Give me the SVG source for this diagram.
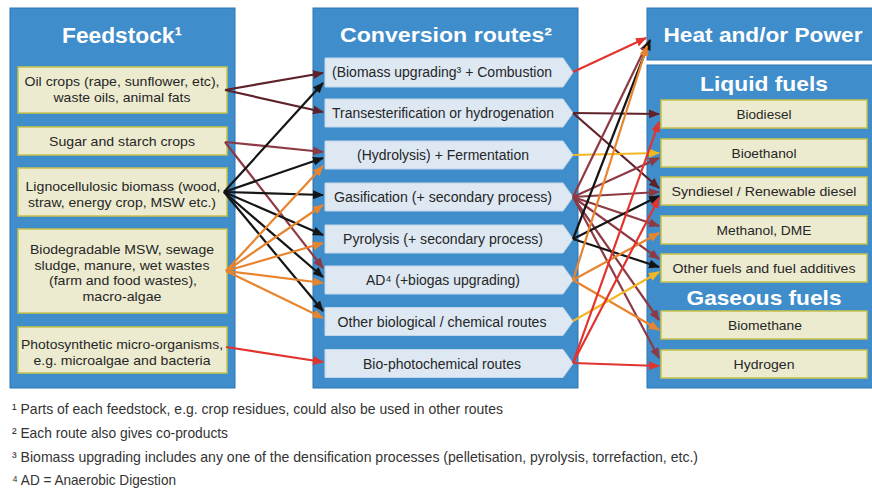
<svg xmlns="http://www.w3.org/2000/svg" width="872" height="489" viewBox="0 0 872 489">
<style>
.panel{fill:#3f8dca;stroke:#2d75b2;stroke-width:1}
.fs{fill:#ecebcf;stroke:#c8c24a;stroke-width:1.5}
.rt{fill:#dde8f3;stroke:#c2d6ea;stroke-width:1}
.title{font-family:"Liberation Sans",Arial,sans-serif;font-weight:bold;fill:#ffffff;text-anchor:middle}
.t{font-family:"Liberation Sans",Arial,sans-serif;font-size:13.5px;fill:#262626;text-anchor:middle}
.rtx{font-family:"Liberation Sans",Arial,sans-serif;font-size:14px;fill:#262626;text-anchor:middle}
.fn{font-family:"Liberation Sans",Arial,sans-serif;font-size:14.5px;fill:#333333}
.c{fill:none;stroke-width:2.2}
.dm{stroke:#5e2228;marker-end:url(#a-dm)}
.mr{stroke:#8d3a44;marker-end:url(#a-mr)}
.bk{stroke:#151515;marker-end:url(#a-bk)}
.or{stroke:#e8842e;marker-end:url(#a-or)}
.gd{stroke:#f3b624;marker-end:url(#a-gd)}
.rd{stroke:#e2342e;marker-end:url(#a-rd)}
</style>
<defs>
<marker id="a-dm" markerUnits="userSpaceOnUse" markerWidth="11" markerHeight="9" refX="10" refY="4.5" orient="auto"><path d="M0,0 L11,4.5 L0,9 z" fill="#5e2228"/></marker>
<marker id="a-mr" markerUnits="userSpaceOnUse" markerWidth="11" markerHeight="9" refX="10" refY="4.5" orient="auto"><path d="M0,0 L11,4.5 L0,9 z" fill="#8d3a44"/></marker>
<marker id="a-bk" markerUnits="userSpaceOnUse" markerWidth="11" markerHeight="9" refX="10" refY="4.5" orient="auto"><path d="M0,0 L11,4.5 L0,9 z" fill="#151515"/></marker>
<marker id="a-or" markerUnits="userSpaceOnUse" markerWidth="11" markerHeight="9" refX="10" refY="4.5" orient="auto"><path d="M0,0 L11,4.5 L0,9 z" fill="#e8842e"/></marker>
<marker id="a-gd" markerUnits="userSpaceOnUse" markerWidth="11" markerHeight="9" refX="10" refY="4.5" orient="auto"><path d="M0,0 L11,4.5 L0,9 z" fill="#f3b624"/></marker>
<marker id="a-rd" markerUnits="userSpaceOnUse" markerWidth="11" markerHeight="9" refX="10" refY="4.5" orient="auto"><path d="M0,0 L11,4.5 L0,9 z" fill="#e2342e"/></marker>
</defs>
<rect width="872" height="489" fill="#ffffff"/>

<!-- Panels -->
<g id="panel-feedstock">
<rect class="panel" x="10" y="8" width="225" height="380"/>
<text class="title" x="122" y="43" font-size="22" textLength="120" lengthAdjust="spacingAndGlyphs">Feedstock¹</text>
</g>
<g id="panel-conversion">
<rect class="panel" x="313" y="8" width="265" height="380"/>
<text class="title" x="446" y="42" font-size="21" textLength="212" lengthAdjust="spacingAndGlyphs">Conversion routes²</text>
</g>
<g id="panel-heat">
<rect class="panel" x="647" y="8" width="232" height="52"/>
<text class="title" x="763" y="42" font-size="21" textLength="199" lengthAdjust="spacingAndGlyphs">Heat and/or Power</text>
</g>
<g id="panel-fuels">
<rect class="panel" x="647" y="65" width="232" height="323"/>
<text class="title" x="764" y="91" font-size="21" textLength="128" lengthAdjust="spacingAndGlyphs">Liquid fuels</text>
<text class="title" x="764" y="305" font-size="21" textLength="155" lengthAdjust="spacingAndGlyphs">Gaseous fuels</text>
</g>

<!-- Feedstock nodes -->
<g id="fs-oil">
<rect class="fs" x="18" y="67" width="209" height="46"/>
<text class="t" x="122" y="86" textLength="195" lengthAdjust="spacingAndGlyphs">Oil crops (rape, sunflower, etc),</text>
<text class="t" x="122" y="102" textLength="137" lengthAdjust="spacingAndGlyphs">waste oils, animal fats</text>
</g>
<g id="fs-sugar">
<rect class="fs" x="18" y="127" width="209" height="28"/>
<text class="t" x="122" y="146" textLength="146" lengthAdjust="spacingAndGlyphs">Sugar and starch crops</text>
</g>
<g id="fs-ligno">
<rect class="fs" x="18" y="168" width="209" height="48"/>
<text class="t" x="123" y="191" textLength="195" lengthAdjust="spacingAndGlyphs">Lignocellulosic biomass (wood,</text>
<text class="t" x="122" y="207" textLength="188" lengthAdjust="spacingAndGlyphs">straw, energy crop, MSW etc.)</text>
</g>
<g id="fs-biodeg">
<rect class="fs" x="18" y="229" width="209" height="84"/>
<text class="t" x="122" y="254" textLength="184" lengthAdjust="spacingAndGlyphs">Biodegradable MSW, sewage</text>
<text class="t" x="122" y="270" textLength="175" lengthAdjust="spacingAndGlyphs">sludge, manure, wet wastes</text>
<text class="t" x="123" y="285" textLength="148" lengthAdjust="spacingAndGlyphs">(farm and food wastes),</text>
<text class="t" x="122" y="301" textLength="79" lengthAdjust="spacingAndGlyphs">macro-algae</text>
</g>
<g id="fs-photo">
<rect class="fs" x="18" y="327" width="209" height="46"/>
<text class="t" x="122" y="349" textLength="202" lengthAdjust="spacingAndGlyphs">Photosynthetic micro-organisms,</text>
<text class="t" x="122" y="365" textLength="177" lengthAdjust="spacingAndGlyphs">e.g. microalgae and bacteria</text>
</g>

<!-- Route nodes -->
<g id="rt-upgrading">
<polygon class="rt" points="325,58 563,58 573,72.5 563,87 325,87"/>
<text class="rtx" x="442" y="77" textLength="220" lengthAdjust="spacingAndGlyphs">(Biomass upgrading³ + Combustion</text>
</g>
<g id="rt-transester">
<polygon class="rt" points="325,99 563,99 573,113 563,127 325,127"/>
<text class="rtx" x="443" y="118" textLength="222" lengthAdjust="spacingAndGlyphs">Transesterification or hydrogenation</text>
</g>
<g id="rt-hydrolysis">
<polygon class="rt" points="325,141 563,141 573,155 563,169 325,169"/>
<text class="rtx" x="443" y="160" textLength="172" lengthAdjust="spacingAndGlyphs">(Hydrolysis) + Fermentation</text>
</g>
<g id="rt-gasification">
<polygon class="rt" points="325,183 563,183 573,197 563,211 325,211"/>
<text class="rtx" x="443" y="202" textLength="218" lengthAdjust="spacingAndGlyphs">Gasification (+ secondary process)</text>
</g>
<g id="rt-pyrolysis">
<polygon class="rt" points="325,225 563,225 573,239 563,253 325,253"/>
<text class="rtx" x="443" y="244" textLength="200" lengthAdjust="spacingAndGlyphs">Pyrolysis (+ secondary process)</text>
</g>
<g id="rt-ad">
<polygon class="rt" points="325,266 563,266 573,280 563,294 325,294"/>
<text class="rtx" x="443" y="285" textLength="154" lengthAdjust="spacingAndGlyphs">AD⁴ (+biogas upgrading)</text>
</g>
<g id="rt-other">
<polygon class="rt" points="325,307.5 563,307.5 573,321.5 563,335.5 325,335.5"/>
<text class="rtx" x="442" y="327" textLength="209" lengthAdjust="spacingAndGlyphs">Other biological / chemical routes</text>
</g>
<g id="rt-biophoto">
<polygon class="rt" points="325,349.5 563,349.5 573,363.5 563,377.5 325,377.5"/>
<text class="rtx" x="442" y="368.5" textLength="158" lengthAdjust="spacingAndGlyphs">Bio-photochemical routes</text>
</g>

<!-- Product nodes -->
<g id="pr-biodiesel">
<rect class="fs" x="661" y="100" width="206" height="28"/>
<text class="t" x="764" y="119" textLength="55" lengthAdjust="spacingAndGlyphs">Biodiesel</text>
</g>
<g id="pr-bioethanol">
<rect class="fs" x="661" y="139" width="206" height="28"/>
<text class="t" x="764" y="158" textLength="65" lengthAdjust="spacingAndGlyphs">Bioethanol</text>
</g>
<g id="pr-syndiesel">
<rect class="fs" x="661" y="177" width="206" height="28"/>
<text class="t" x="764" y="196" textLength="185" lengthAdjust="spacingAndGlyphs">Syndiesel / Renewable diesel</text>
</g>
<g id="pr-methanol">
<rect class="fs" x="661" y="216" width="206" height="28"/>
<text class="t" x="764" y="235" textLength="95" lengthAdjust="spacingAndGlyphs">Methanol, DME</text>
</g>
<g id="pr-otherfuels">
<rect class="fs" x="661" y="254" width="206" height="28"/>
<text class="t" x="764" y="273" textLength="183" lengthAdjust="spacingAndGlyphs">Other fuels and fuel additives</text>
</g>
<g id="pr-biomethane">
<rect class="fs" x="661" y="311" width="206" height="28"/>
<text class="t" x="765" y="330" textLength="74" lengthAdjust="spacingAndGlyphs">Biomethane</text>
</g>
<g id="pr-hydrogen">
<rect class="fs" x="661" y="350" width="206" height="28"/>
<text class="t" x="764" y="369" textLength="61" lengthAdjust="spacingAndGlyphs">Hydrogen</text>
</g>

<!-- Connectors -->
<g id="connectors">
<line class="c dm" x1="225" y1="90" x2="323" y2="73"/>
<line class="c dm" x1="225" y1="90" x2="323" y2="112"/>
<line class="c mr" x1="225" y1="142" x2="323" y2="152"/>
<line class="c mr" x1="225" y1="142" x2="323" y2="268"/>
<line class="c bk" x1="224" y1="192" x2="323" y2="83"/>
<line class="c bk" x1="224" y1="192" x2="323" y2="158"/>
<line class="c bk" x1="224" y1="192" x2="323" y2="195"/>
<line class="c bk" x1="224" y1="192" x2="323" y2="235"/>
<line class="c bk" x1="224" y1="192" x2="323" y2="277"/>
<line class="c bk" x1="224" y1="192" x2="323" y2="311"/>
<line class="c or" x1="226" y1="271" x2="323" y2="166"/>
<line class="c or" x1="226" y1="271" x2="323" y2="205"/>
<line class="c or" x1="226" y1="271" x2="323" y2="243"/>
<line class="c or" x1="226" y1="271" x2="323" y2="283"/>
<line class="c or" x1="226" y1="271" x2="323" y2="318"/>
<line class="c rd" x1="226" y1="347" x2="323" y2="362"/>

<line class="c rd" x1="573" y1="72" x2="646" y2="38"/>
<line class="c dm" x1="573" y1="113" x2="659" y2="114"/>
<line class="c dm" x1="573" y1="113" x2="659" y2="188"/>
<line class="c gd" x1="573" y1="155" x2="659" y2="153"/>
<line class="c mr" x1="573" y1="197" x2="648" y2="42"/>
<line class="c mr" x1="573" y1="197" x2="659" y2="158"/>
<line class="c mr" x1="573" y1="197" x2="659" y2="192"/>
<line class="c mr" x1="573" y1="197" x2="659" y2="226"/>
<line class="c mr" x1="573" y1="197" x2="659" y2="259"/>
<line class="c mr" x1="573" y1="197" x2="659" y2="320"/>
<line class="c mr" x1="573" y1="197" x2="659" y2="358"/>
<line class="c bk" x1="573" y1="239" x2="650" y2="40"/>
<line class="c bk" x1="573" y1="239" x2="659" y2="196"/>
<line class="c bk" x1="573" y1="239" x2="659" y2="267"/>
<line class="c or" x1="573" y1="280" x2="647" y2="46"/>
<line class="c or" x1="573" y1="280" x2="659" y2="233"/>
<line class="c or" x1="573" y1="280" x2="659" y2="330"/>
<line class="c gd" x1="573" y1="321" x2="659" y2="272"/>
<line class="c rd" x1="573" y1="363" x2="659" y2="122"/>
<line class="c rd" x1="573" y1="363" x2="659" y2="198"/>
<line class="c rd" x1="573" y1="363" x2="659" y2="366"/>
</g>

<!-- Footnotes -->
<g id="footnotes">
<text class="fn" x="12" y="414" textLength="491" lengthAdjust="spacingAndGlyphs">¹ Parts of each feedstock, e.g. crop residues, could also be used in other routes</text>
<text class="fn" x="12" y="438" textLength="216" lengthAdjust="spacingAndGlyphs">² Each route also gives co-products</text>
<text class="fn" x="12" y="462" textLength="686" lengthAdjust="spacingAndGlyphs">³ Biomass upgrading includes any one of the densification processes (pelletisation, pyrolysis, torrefaction, etc.)</text>
<text class="fn" x="12" y="485" textLength="164" lengthAdjust="spacingAndGlyphs">⁴ AD = Anaerobic Digestion</text>
</g>
</svg>
